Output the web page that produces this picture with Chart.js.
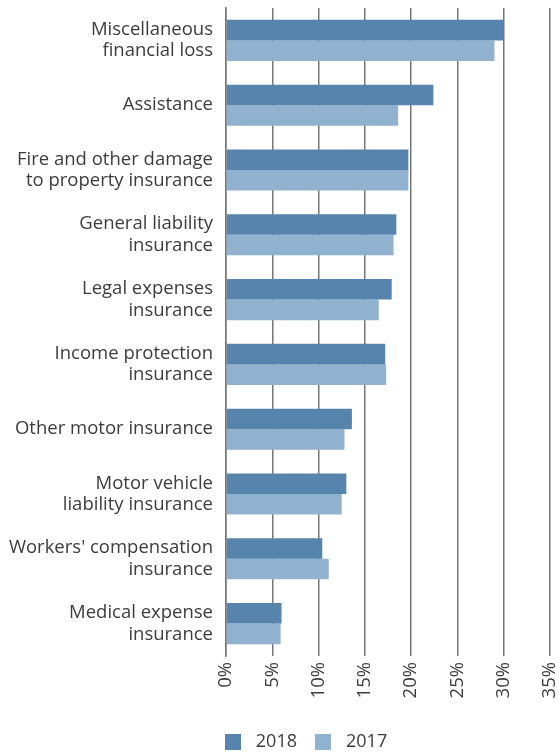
<!DOCTYPE html>
<html>
<head>
<meta charset="utf-8">
<script src="https://cdn.jsdelivr.net/npm/chart.js@4/dist/chart.umd.min.js"></script>
<style>
  body { margin: 0; background: #fff; }
  #wrap { width: 559px; height: 755px; }
</style>
</head>
<body>
<div id="wrap"><canvas id="chart" width="559" height="755"></canvas></div>
<script>
// categories (top to bottom)
const categories = [
    ['Miscellaneous', 'financial loss'],
    'Assistance',
    ['Fire and other damage', 'to property insurance'],
    ['General liability', 'insurance'],
    ['Legal expenses', 'insurance'],
    ['Income protection', 'insurance'],
    'Other motor insurance',
    ['Motor vehicle', 'liability insurance'],
    ["Workers' compensation", 'insurance'],
    ['Medical expense', 'insurance']
];

// values in percent
const values2018 = [30.0, 22.4, 19.7, 18.4, 17.9, 17.2, 13.6, 13.0, 10.4, 6.0];
const values2017 = [29.0, 18.6, 19.7, 18.1, 16.5, 17.3, 12.8, 12.5, 11.1, 5.9];

const xTicks = [0, 5, 10, 15, 20, 25, 30, 35];

const colors = ['#5784ad', '#91b2cf'];
const textColor = '#3c3c3c';
const gridColor = '#767676';

// small square swatches for the legend
function makeSwatch(color) {
    const c = document.createElement('canvas');
    c.width = 16;
    c.height = 16;
    const g = c.getContext('2d');
    g.fillStyle = color;
    g.fillRect(0, 0, 16, 16);
    return c;
}
const swatches = colors.map(makeSwatch);

// move the legend to where the original has it
const legendShift = {
    id: 'legendShift',
    afterLayout(chart) {
        const lg = chart.legend;
        if (!lg) return;
        lg.left += 28;
        lg.right += 28;
        lg.top += 13;
        lg.bottom += 13;
    }
};

new Chart(document.getElementById('chart').getContext('2d'), {
    type: 'bar',
    data: {
        labels: categories,
        datasets: [
            {
                label: '2018',
                data: values2018,
                backgroundColor: colors[0],
                categoryPercentage: 0.635,
                barPercentage: 1.0
            },
            {
                label: '2017',
                data: values2017,
                backgroundColor: colors[1],
                categoryPercentage: 0.635,
                barPercentage: 1.0
            }
        ]
    },
    options: {
        indexAxis: 'y',
        responsive: false,
        animation: false,
        layout: {
            padding: { top: 8, right: 9, left: 0, bottom: 7 }
        },
        plugins: {
            legend: {
                position: 'bottom',
                labels: {
                    usePointStyle: true,
                    pointStyleWidth: 28,
                    boxHeight: 16,
                    padding: 12,
                    color: textColor,
                    font: { family: 'Open Sans', size: 18 },
                    generateLabels(chart) {
                        const items = Chart.defaults.plugins.legend.labels.generateLabels(chart);
                        items.forEach((it, i) => { it.pointStyle = swatches[i]; });
                        return items;
                    }
                }
            },
            tooltip: { enabled: false }
        },
        scales: {
            x: {
                min: 0,
                max: 35,
                afterBuildTicks(axis) {
                    axis.ticks = xTicks.map(v => ({ value: v }));
                },
                afterFit(axis) {
                    axis.paddingLeft = 0;
                    axis.paddingRight = 0;
                    axis.height = 52;
                },
                grid: {
                    color: gridColor,
                    lineWidth: 1.5,
                    drawTicks: false
                },
                border: { display: false },
                ticks: {
                    minRotation: 90,
                    maxRotation: 90,
                    padding: 6,
                    color: textColor,
                    font: { family: 'Open Sans', size: 18.5 },
                    callback: v => v + '%'
                }
            },
            y: {
                afterFit(axis) {
                    axis.paddingTop = 0;
                    axis.paddingBottom = 0;
                    axis.width = 226;
                },
                grid: { display: false, drawTicks: false },
                border: { display: true, color: gridColor, width: 1.5 },
                ticks: {
                    padding: 13,
                    color: textColor,
                    font: { family: 'Open Sans', size: 18.5, lineHeight: 1.15 }
                }
            }
        }
    },
    plugins: [legendShift]
});
</script>
</body>
</html>
